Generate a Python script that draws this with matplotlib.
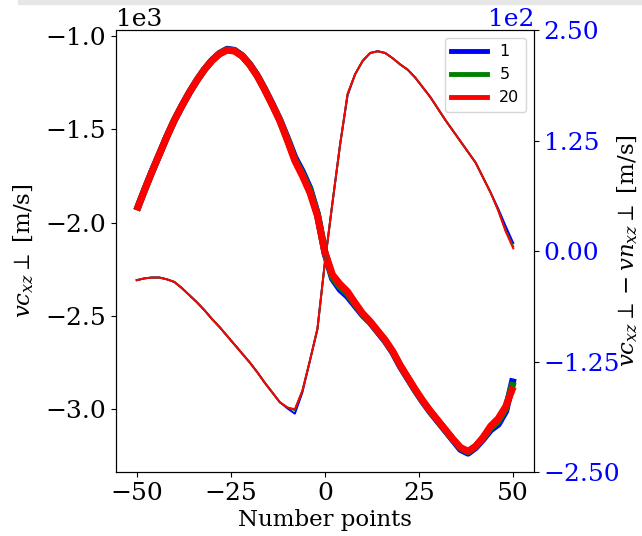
import numpy as np
import matplotlib
matplotlib.use("Agg")
import matplotlib.pyplot as plt
from matplotlib.lines import Line2D
from matplotlib.patches import Rectangle

plt.rcParams.update({
    "font.family": "DejaVu Serif",
    "mathtext.fontset": "dejavuserif",
    "font.size": 16.5,
    "xtick.labelsize": 18,
    "ytick.labelsize": 18,
})

# sample positions (number points)
x = np.arange(-50, 51, 2)

# vc_xz perp for averaging windows 1, 5, 20  [m/s]
vc_1 = [-1934, -1830, -1730, -1635, -1540, -1452, -1375, -1303, -1238, -1180,
        -1131, -1094, -1072, -1078, -1106, -1152, -1212, -1286, -1366, -1450,
        -1548, -1652, -1728, -1818, -1955, -2165, -2300, -2358, -2395, -2445,
        -2495, -2535, -2585, -2635, -2695, -2770, -2835, -2900, -2960, -3015,
        -3065, -3115, -3165, -3215, -3235, -3205, -3160, -3110, -3080, -3010,
        -2835]
vc_5 = [-1934, -1830, -1730, -1635, -1540, -1452, -1375, -1303, -1238, -1180,
        -1132, -1096, -1075, -1080, -1108, -1154, -1214, -1288, -1368, -1453,
        -1555, -1663, -1740, -1828, -1958, -2162, -2292, -2345, -2382, -2437,
        -2490, -2532, -2582, -2632, -2692, -2767, -2832, -2897, -2957, -3012,
        -3062, -3112, -3162, -3207, -3228, -3200, -3155, -3100, -3065, -2995,
        -2855]
vc_20 = [-1934, -1830, -1730, -1635, -1540, -1452, -1375, -1303, -1238, -1180,
         -1133, -1097, -1077, -1082, -1109, -1155, -1215, -1290, -1370, -1455,
         -1560, -1670, -1750, -1840, -1965, -2160, -2280, -2330, -2370, -2430,
         -2487, -2530, -2580, -2630, -2690, -2765, -2830, -2895, -2955, -3010,
         -3060, -3110, -3160, -3205, -3225, -3198, -3150, -3090, -3050, -2985,
         -2880]

# vc_xz perp - vn_xz perp  [m/s]
dv_1 = [-33, -31, -30, -30, -32, -35, -42, -50, -58, -67,
        -77, -86, -96, -106, -116, -126, -137, -149, -160, -171,
        -178, -184, -160, -124, -88, -12, 55, 120, 176, 200,
        215, 224, 226, 224, 218, 211, 205, 196, 185, 174,
        161, 148, 136, 124, 112, 100, 83, 66, 48, 28,
        9]
dv_5 = [-33, -31, -30, -30, -32, -35, -42, -50, -58, -67,
        -77, -86, -96, -106, -116, -126, -137, -149, -160, -171,
        -177, -180, -158, -124, -88, -12, 55, 120, 177, 200,
        215, 224, 226, 224, 218, 211, 205, 196, 185, 174,
        161, 148, 136, 124, 112, 100, 83, 66, 46, 23,
        5]
dv_20 = [-33, -31, -30, -30, -32, -35, -42, -50, -58, -67,
         -77, -86, -96, -106, -116, -126, -137, -149, -160, -171,
         -177, -179, -158, -124, -88, -12, 55, 120, 178, 200,
         215, 224, 226, 224, 218, 211, 205, 196, 185, 174,
         161, 148, 136, 124, 112, 100, 83, 66, 46, 22,
         3]

windows = ["1", "5", "20"]
colors = ["blue", "green", "red"]

fig = plt.figure(figsize=(6.42, 5.36), dpi=100)
fig.patches.append(Rectangle((18 / 642, 1 - 4 / 536), 1, 4 / 536,
                             transform=fig.transFigure, color="#e6e6e6",
                             zorder=0))
ax = fig.add_axes([0.1807, 0.1194, 0.651, 0.8246])

for y, c in zip([vc_1, vc_5, vc_20], colors):
    ax.plot(x, y, color=c, lw=5, solid_capstyle="butt")
ax.set_xlim(-55.5, 55.5)
ax.set_ylim(-3336, -969)
ax.set_xticks([-50, -25, 0, 25, 50])
ax.set_yticks([-3000, -2500, -2000, -1500, -1000])
ax.ticklabel_format(axis="y", style="sci", scilimits=(0, 0))
ax.set_xlabel("Number points", labelpad=3)
ax.set_ylabel(r"$vc_{xz}\perp$ [m/s]", labelpad=7)

ax2 = ax.twinx()
for y, c in zip([dv_1, dv_5, dv_20], colors):
    ax2.plot(x, y, color=c, lw=1.4)
ax2.set_ylim(-250, 250)
ax2.set_yticks([-250, -125, 0, 125, 250])
ax2.ticklabel_format(axis="y", style="sci", scilimits=(0, 0))
ax2.tick_params(axis="y", labelcolor="blue")
ax2.yaxis.get_offset_text().set_color("blue")
ax2.set_ylabel(r"$vc_{xz}\perp - vn_{xz}\perp$ [m/s]", labelpad=-3)

handles = [Line2D([], [], color=c, lw=3.5) for c in colors]
ax2.legend(handles, windows, loc="upper right", handlelength=2.2,
           prop={"family": "DejaVu Sans", "size": 11.5})

fig.savefig("out.png", dpi=100)
